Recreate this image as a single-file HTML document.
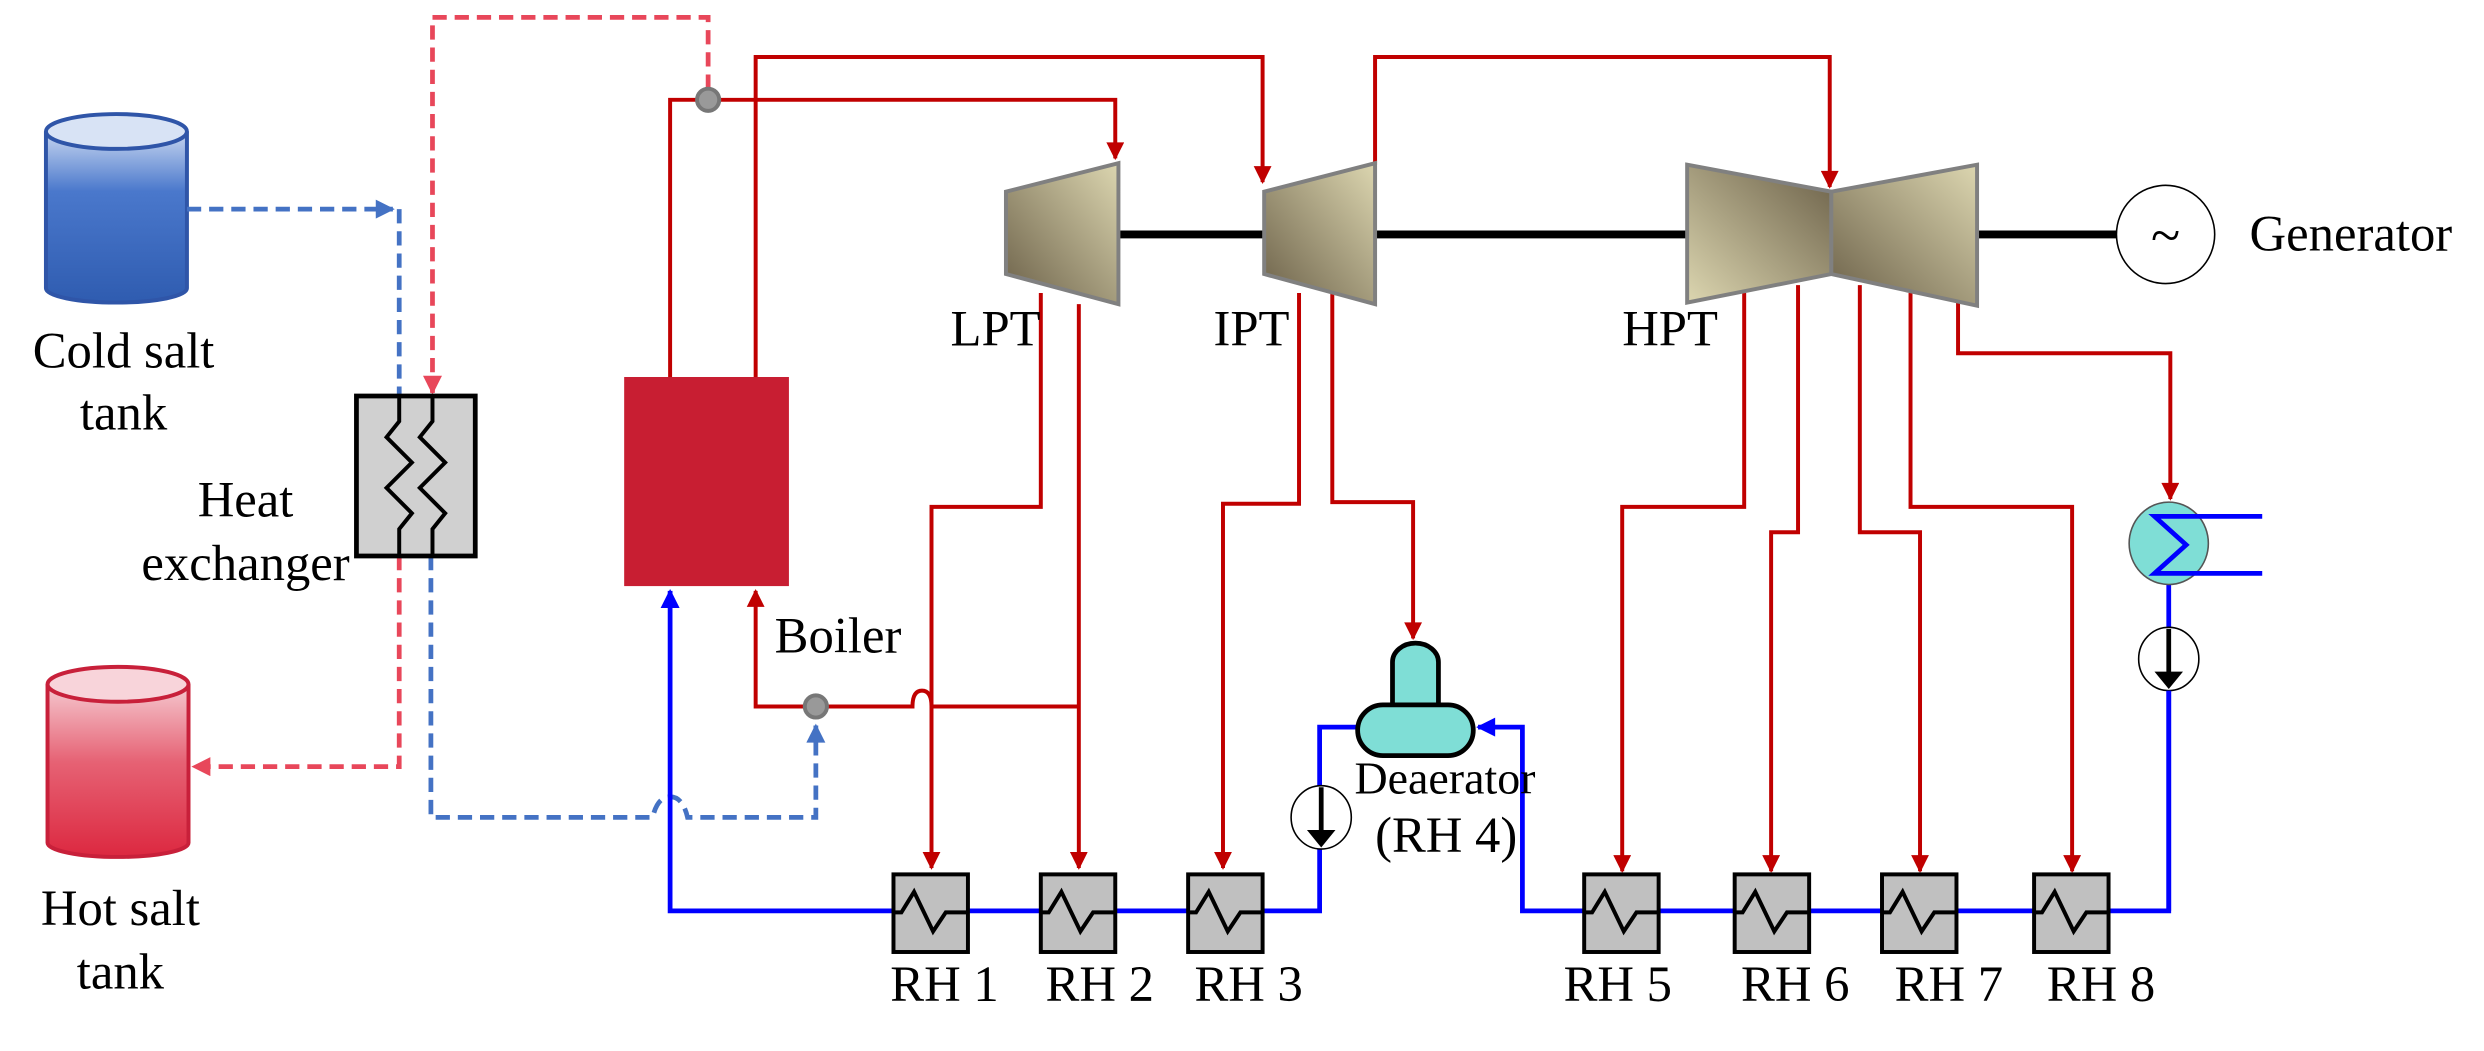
<!DOCTYPE html>
<html><head><meta charset="utf-8"><style>
html,body{margin:0;padding:0;background:#fff;}
svg{display:block;}
text{font-family:"Liberation Serif","Times New Roman",serif;fill:#000;}
</style></head><body>
<svg width="2484" height="1051" viewBox="0 0 1568 663.5" preserveAspectRatio="none" xmlns="http://www.w3.org/2000/svg" font-family="Liberation Serif, serif">
<defs>
<linearGradient id="gb" x1="0" y1="0" x2="0" y2="1"><stop offset="0" stop-color="#c7d6f0"/><stop offset="0.35" stop-color="#4a78cc"/><stop offset="1" stop-color="#2f5cb0"/></linearGradient>
<linearGradient id="gr" x1="0" y1="0" x2="0" y2="1"><stop offset="0" stop-color="#f5c9d0"/><stop offset="0.45" stop-color="#e66274"/><stop offset="1" stop-color="#dc2840"/></linearGradient>
<linearGradient id="gt1" x1="0" y1="1" x2="1" y2="0"><stop offset="0" stop-color="#6b6048"/><stop offset="1" stop-color="#dcd6b0"/></linearGradient>
<linearGradient id="gt2" x1="1" y1="0" x2="0" y2="1"><stop offset="0" stop-color="#6b6048"/><stop offset="1" stop-color="#dcd6b0"/></linearGradient>
<marker id="ar" viewBox="0 0 10 10" refX="9" refY="5" markerWidth="5" markerHeight="4.5" orient="auto" markerUnits="strokeWidth"><path d="M0,0L10,5L0,10z" fill="#c00000"/></marker>
<marker id="ab" viewBox="0 0 10 10" refX="9" refY="5" markerWidth="4.5" markerHeight="4" orient="auto" markerUnits="strokeWidth"><path d="M0,0L10,5L0,10z" fill="#0000ff"/></marker>
<marker id="adb" viewBox="0 0 10 10" refX="9" refY="5" markerWidth="4.5" markerHeight="4" orient="auto" markerUnits="strokeWidth"><path d="M0,0L10,5L0,10z" fill="#4472c4"/></marker>
<marker id="adr" viewBox="0 0 10 10" refX="9" refY="5" markerWidth="4.5" markerHeight="4" orient="auto" markerUnits="strokeWidth"><path d="M0,0L10,5L0,10z" fill="#e8475a"/></marker>
</defs>

<!-- tanks -->
<path d="M29,83 V182 A44.5,9 0 0 0 118,182 V83" fill="url(#gb)" stroke="#2f55a8" stroke-width="2.5"/>
<ellipse cx="73.5" cy="83" rx="44.5" ry="11" fill="#d8e3f5" stroke="#2f55a8" stroke-width="2.5"/>
<path d="M30,432 V532 A44.5,9 0 0 0 119,532 V432" fill="url(#gr)" stroke="#c8203a" stroke-width="2.5"/>
<ellipse cx="74.5" cy="432" rx="44.5" ry="11" fill="#f8d4da" stroke="#c8203a" stroke-width="2.5"/>

<!-- dashed salt lines -->
<g fill="none" stroke-width="3" stroke-dasharray="9,5">
<path d="M118,132 H248" stroke="#4472c4" marker-end="url(#adb)"/>
<path d="M252,132 V250" stroke="#4472c4"/>
<path d="M447,56 V11 H273 V248" stroke="#e8475a" marker-end="url(#adr)"/>
<path d="M252,351 V484 H122" stroke="#e8475a" marker-end="url(#adr)"/>
<path d="M272,351 V516 H412 Q415,503 423,503 Q431,503 434,516 H515 V458" stroke="#4472c4" marker-end="url(#adb)"/>
</g>

<!-- heat exchanger -->
<rect x="225" y="250" width="75" height="101" fill="#d0d0d0" stroke="#000" stroke-width="3"/>
<path d="M252,250 V266 L244,276 L260,292 L244,308 L260,324 L252,334 V351 M273,250 V266 L265,276 L281,292 L265,308 L281,324 L273,334 V351" fill="none" stroke="#000" stroke-width="2.5"/>

<!-- boiler -->
<rect x="394" y="238" width="104" height="132" fill="#c81e32"/>

<!-- red steam lines -->
<g fill="none" stroke="#c00000" stroke-width="2.5">
<path d="M423,238 V63 H704 V100" marker-end="url(#ar)"/>
<path d="M477,238 V36 H797 V115" marker-end="url(#ar)"/>
<path d="M868,104 V36 H1155 V118" marker-end="url(#ar)"/>
<path d="M681,446 H588 Q588,436 582,436 Q576,436 576,446 H515 M508,446 H477 V373" marker-end="url(#ar)"/>
<path d="M681,192 V548" marker-end="url(#ar)"/>
<path d="M657,185 V320 H588 V548" marker-end="url(#ar)"/>
<path d="M820,185 V318 H772 V548" marker-end="url(#ar)"/>
<path d="M841,185 V317 H892 V403" marker-end="url(#ar)"/>
<path d="M1101,185 V320 H1024 V550" marker-end="url(#ar)"/>
<path d="M1135,180 V336 H1118 V550" marker-end="url(#ar)"/>
<path d="M1174,180 V336 H1212 V550" marker-end="url(#ar)"/>
<path d="M1206,185 V320 H1308 V550" marker-end="url(#ar)"/>
<path d="M1236,190 V223 H1370 V315" marker-end="url(#ar)"/>
</g>

<!-- blue water lines -->
<g fill="none" stroke="#0000ff" stroke-width="3">
<path d="M564,575 H423 V373" marker-end="url(#ab)"/>
<path d="M611,575 H657 M704,575 H750 M797,575 H833 V459 H857"/>
<path d="M1000,575 H961 V459 H933" marker-end="url(#ab)"/>
<path d="M1047,575 H1095 M1142,575 H1188 M1235,575 H1284 M1331,575 H1369 V369"/>
</g>

<!-- circles (valves) -->
<circle cx="447" cy="63" r="7" fill="#999" stroke="#777" stroke-width="2.5"/>
<circle cx="515" cy="446" r="7" fill="#999" stroke="#777" stroke-width="2.5"/>

<!-- shaft -->
<path d="M706,148 H1065 M1248,148 H1336" stroke="#000" stroke-width="5"/>

<!-- turbines -->
<polygon points="635,121 706,103 706,192 635,173" fill="url(#gt1)" stroke="#808080" stroke-width="2.5"/>
<polygon points="798,121 868,103 868,192 798,173" fill="url(#gt1)" stroke="#808080" stroke-width="2.5"/>
<polygon points="1065,104 1156,121 1156,173 1065,191" fill="url(#gt2)" stroke="#808080" stroke-width="2.5"/>
<polygon points="1156,121 1248,104 1248,193 1156,173" fill="url(#gt1)" stroke="#808080" stroke-width="2.5"/>

<!-- generator -->
<circle cx="1367" cy="148" r="31" fill="#fff" stroke="#000" stroke-width="1"/>
<text x="1367" y="160" font-size="34" text-anchor="middle">~</text>

<!-- RH boxes -->
<g fill="#c0c0c0" stroke="#000" stroke-width="2.5">
<rect x="564" y="552" width="47" height="49"/><rect x="657" y="552" width="47" height="49"/><rect x="750" y="552" width="47" height="49"/>
<rect x="1000" y="552" width="47" height="49"/><rect x="1095" y="552" width="47" height="49"/><rect x="1188" y="552" width="47" height="49"/><rect x="1284" y="552" width="47" height="49"/>
</g>
<g fill="none" stroke="#000" stroke-width="2.5">
<path d="M564,576 H569 L577,563 L589,588 L597,576 H611"/>
<path d="M657,576 H662 L670,563 L682,588 L690,576 H704"/>
<path d="M750,576 H755 L763,563 L775,588 L783,576 H797"/>
<path d="M1000,576 H1005 L1013,563 L1025,588 L1033,576 H1047"/>
<path d="M1095,576 H1100 L1108,563 L1120,588 L1128,576 H1142"/>
<path d="M1188,576 H1193 L1201,563 L1213,588 L1221,576 H1235"/>
<path d="M1284,576 H1289 L1297,563 L1309,588 L1317,576 H1331"/>
</g>

<!-- deaerator -->
<path d="M879,445 V418 A14.5,12 0 0 1 908,418 V445" fill="#7fded6" stroke="#000" stroke-width="3"/>
<rect x="857" y="445" width="73" height="32" rx="16" fill="#7fded6" stroke="#000" stroke-width="3"/>

<!-- pumps -->
<ellipse cx="834" cy="516" rx="19" ry="20" fill="#fff" stroke="#000" stroke-width="1"/>
<path d="M834,497 V526" stroke="#000" stroke-width="3"/><path d="M825,524 L843,524 L834,535 z" fill="#000"/>
<ellipse cx="1369" cy="416" rx="19" ry="20" fill="#fff" stroke="#000" stroke-width="1"/>
<path d="M1369,397 V426" stroke="#000" stroke-width="3"/><path d="M1360,424 L1378,424 L1369,435 z" fill="#000"/>
<path d="M1369,436 V575" stroke="#0000ff" stroke-width="3"/>

<!-- condenser -->
<ellipse cx="1369" cy="343" rx="25" ry="26" fill="#7fded6" stroke="#555" stroke-width="1"/>
<path d="M1428,326 H1360 L1380,344 L1360,362 H1428" fill="none" stroke="#0000ff" stroke-width="3"/>

<!-- labels -->
<g font-size="32" font-family="Liberation Serif, serif">
<text x="78" y="232" text-anchor="middle">Cold salt</text>
<text x="78" y="271" text-anchor="middle">tank</text>
<text x="155" y="326" text-anchor="middle">Heat</text>
<text x="155" y="366" text-anchor="middle">exchanger</text>
<text x="76" y="584" text-anchor="middle">Hot salt</text>
<text x="76" y="624" text-anchor="middle">tank</text>
<text x="489" y="412">Boiler</text>
<text x="600" y="218">LPT</text>
<text x="766" y="218">IPT</text>
<text x="1024" y="218">HPT</text>
<text x="1420" y="158">Generator</text>
<text x="562" y="632">RH 1</text>
<text x="660" y="632">RH 2</text>
<text x="754" y="632">RH 3</text>
<text x="987" y="632">RH 5</text>
<text x="1099" y="632">RH 6</text>
<text x="1196" y="632">RH 7</text>
<text x="1292" y="632">RH 8</text>
<text x="868" y="538">(RH 4)</text>
<text x="855" y="501" font-size="29">Deaerator</text>
</g>
</svg>
</body></html>
